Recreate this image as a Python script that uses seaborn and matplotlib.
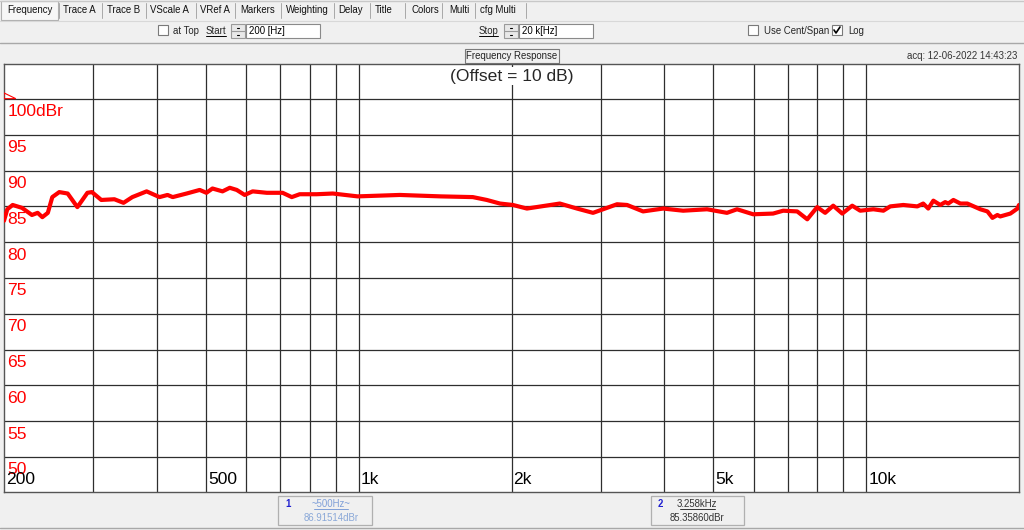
import matplotlib
matplotlib.use("Agg")
import matplotlib.pyplot as plt
from matplotlib.patches import Rectangle, Polygon
import seaborn as sns

freq_hz = [200, 203, 208, 217, 227, 233, 238, 244, 249, 257, 267, 279, 292, 298,
           311, 330, 344, 358, 382, 405, 420, 430, 458, 486, 501, 515, 539, 557,
           575, 596, 618, 659, 708, 738, 765, 826, 889, 995, 1205, 1450, 1678,
           1788, 1898, 2013, 2145, 2490, 2692, 2895, 3030, 3228, 3379, 3633, 3980,
           4357, 4858, 5316, 5565, 5987, 6553, 6861, 7311, 7653, 8005, 8300, 8609,
           8970, 9384, 9730, 10330, 10810, 11150, 11830, 12610, 12950, 13250,
           13560, 13990, 14310, 14510, 14850, 15330, 15820, 16780, 17330, 17730,
           18130, 18370, 19230, 19860, 20000]
level_dbr = [83.0, 84.6, 85.2, 84.8, 83.8, 84.1, 83.5, 84.1, 86.3, 87.0, 86.8, 84.9,
             86.9, 87.0, 85.9, 86.0, 85.5, 86.3, 87.1, 86.3, 86.6, 86.3, 86.8, 87.3,
             86.9, 87.5, 87.1, 87.6, 87.3, 86.6, 87.1, 86.9, 86.9, 86.3, 86.7, 86.7,
             86.8, 86.4, 86.6, 86.4, 86.3, 85.9, 85.4, 85.2, 84.7, 85.4, 84.7, 84.1,
             84.6, 85.3, 85.2, 84.3, 84.7, 84.4, 84.6, 84.1, 84.6, 83.9, 84.0, 84.4,
             84.3, 83.2, 84.9, 84.1, 85.1, 84.0, 85.1, 84.4, 84.6, 84.4, 85.0, 85.2,
             85.0, 85.4, 84.7, 85.8, 85.2, 85.6, 85.4, 85.9, 85.4, 85.4, 84.6, 84.3,
             83.4, 83.8, 83.6, 84.0, 84.7, 85.2]

grid_freqs = [300, 400, 500, 600, 700, 800, 900, 1000, 2000, 3000, 4000, 5000,
              6000, 7000, 8000, 9000, 10000]
grid_levels = [50, 55, 60, 65, 70, 75, 80, 85, 90, 95, 100]
y_labels = ["50", "55", "60", "65", "70", "75", "80", "85", "90", "95", "100dBr"]
x_label_freqs = [200, 500, 1000, 2000, 5000, 10000]
x_labels = ["200", "500", "1k", "2k", "5k", "10k"]

tabs = ["Frequency", "Trace A", "Trace B", "VScale A", "VRef A", "Markers",
        "Weighting", "Delay", "Title", "Colors", "Multi", "cfg Multi"]
tab_x = [7, 63, 107, 150, 200, 240, 286, 338, 375, 412, 449, 480]
tab_seps = [59, 102, 146, 196, 235, 281, 334, 370, 405, 442, 475, 526]

sns.set_style("white")
plt.rcParams["font.family"] = ["Liberation Sans", "DejaVu Sans"]

W, H = 1024, 530
BG = "#f0f0f0"
fig = plt.figure(figsize=(W / 100, H / 100), dpi=100, facecolor=BG)

# window chrome drawn in pixel coordinates
ui = fig.add_axes([0, 0, 1, 1])
ui.set_xlim(0, W)
ui.set_ylim(H, 0)
ui.axis("off")
ui.set_facecolor(BG)

ui_fs = 6.9
ui.plot([0, W], [0.5, 0.5], color="#c8c8c8", lw=1)
ui.add_patch(Rectangle((1, 1), 57, 19, fc="#f7f7f7", ec="#b0b0b0", lw=0.8))
for t, x in zip(tabs, tab_x):
    ui.text(x, 10, t, fontsize=ui_fs, va="center", color="#111111")
for x in tab_seps:
    ui.plot([x, x], [3, 18], color="#a8a8a8", lw=0.7)
ui.plot([0, W], [20.5, 20.5], color="#d8d8d8", lw=0.8)


def checkbox(x, y, checked=False):
    ui.add_patch(Rectangle((x, y), 10, 10, fc="white", ec="#7a7a7a", lw=0.8))
    if checked:
        ui.plot([x + 2, x + 4, x + 8], [y + 5, y + 8, y + 2], color="black", lw=1.2)


def spinner(x, y):
    ui.add_patch(Rectangle((x, y), 14, 14, fc="#e8e8e8", ec="#9a9a9a", lw=0.8))
    ui.plot([x, x + 14], [y + 7, y + 7], color="#9a9a9a", lw=0.8)
    ui.plot([x + 6, x + 8], [y + 3.5, y + 3.5], color="black", lw=0.8)
    ui.plot([x + 6, x + 8], [y + 10.5, y + 10.5], color="black", lw=0.8)


def textbox(x, y, w, s):
    ui.add_patch(Rectangle((x, y), w, 14, fc="white", ec="#8a8a8a", lw=0.8))
    ui.text(x + 3, y + 7.5, s, fontsize=ui_fs, va="center", color="black")


checkbox(158, 25)
ui.text(173, 31, "at Top", fontsize=ui_fs, va="center")
ui.text(206, 31, "Start", fontsize=ui_fs, va="center")
ui.plot([206, 226], [36, 36], color="black", lw=0.7)
spinner(231, 24)
textbox(246, 24, 74, "200 [Hz]")
ui.text(479, 31, "Stop", fontsize=ui_fs, va="center")
ui.plot([479, 498], [36, 36], color="black", lw=0.7)
spinner(504, 24)
textbox(519, 24, 74, "20 k[Hz]")
checkbox(748, 25)
ui.text(764, 31, "Use Cent/Span", fontsize=ui_fs, va="center")
checkbox(832, 25, checked=True)
ui.text(848, 31, "Log", fontsize=ui_fs, va="center")
ui.plot([0, W], [43, 43], color="#a8a8a8", lw=1)

ui.text(512, 56, "Frequency Response", fontsize=ui_fs, ha="center", va="center",
        color="#222222",
        bbox=dict(boxstyle="square,pad=0.2", fc=BG, ec="#7a7a7a", lw=0.8))
ui.text(1017, 56, "acq: 12-06-2022 14:43:23", fontsize=ui_fs, ha="right",
        va="center", color="#333333")

# marker read-outs under the plot
ui.add_patch(Rectangle((278, 496), 94, 29, fc=BG, ec="#b0b0b0", lw=0.9))
ui.text(285, 504, "1", fontsize=ui_fs, va="center", color="#2020d0", weight="bold")
ui.text(331, 504, "~500Hz~", fontsize=ui_fs, ha="center", va="center", color="#7f9fd8")
ui.plot([314, 348], [508.5, 508.5], color="#7f9fd8", lw=0.7)
ui.text(331, 518, "86.91514dBr", fontsize=ui_fs, ha="center", va="center", color="#8aa8d8")
ui.add_patch(Rectangle((651, 496), 93, 29, fc=BG, ec="#b0b0b0", lw=0.9))
ui.text(658, 504, "2", fontsize=ui_fs, va="center", color="#2020d0", weight="bold")
ui.text(697, 504, "3.258kHz", fontsize=ui_fs, ha="center", va="center", color="#333333")
ui.plot([680, 715], [508.5, 508.5], color="#333333", lw=0.7)
ui.text(697, 518, "85.35860dBr", fontsize=ui_fs, ha="center", va="center", color="#333333")
ui.plot([0, W], [527.5, 527.5], color="#a8a8a8", lw=1)

# the plot itself
left, right, top, bottom = 4, 1019, 64, 492
ax = fig.add_axes([left / W, 1 - bottom / H, (right - left) / W, (bottom - top) / H])
ax.set_facecolor("white")
ax.set_xscale("log")
ax.set_xlim(200, 20000)
ax.set_ylim(45.11, 104.89)
ax.set_xticks(grid_freqs)
ax.set_xticks([], minor=True)
ax.set_yticks(grid_levels)
ax.tick_params(length=0, labelbottom=False, labelleft=False)
ax.grid(True, color="#2e2e2e", lw=0.9)
for sp in ax.spines.values():
    sp.set_color("#555555")
    sp.set_linewidth(1)

sns.lineplot(x=freq_hz, y=level_dbr, ax=ax, color="#ff0000", lw=3.0, zorder=3)

big = 12.6
for v, lab in zip(grid_levels, y_labels):
    ax.text(203, v - 0.75, lab, color="#ff0000", fontsize=big, va="top", zorder=4)
for f, lab in zip(x_label_freqs, x_labels):
    ax.text(f * 1.009, 46.9, lab, color="black", fontsize=big, va="center", zorder=4)
ax.text(2000, 103.2, "(Offset = 10 dB)", fontsize=big, ha="center", va="center",
        zorder=4, bbox=dict(boxstyle="square,pad=0.1", fc="white", ec="none"))
ax.add_patch(Polygon([(200, 100.85), (211, 100.05), (200, 100.05)], closed=True,
                     fill=False, ec="#ff0000", lw=0.8, zorder=4))

fig.savefig("out.png", dpi=100, facecolor=BG)
